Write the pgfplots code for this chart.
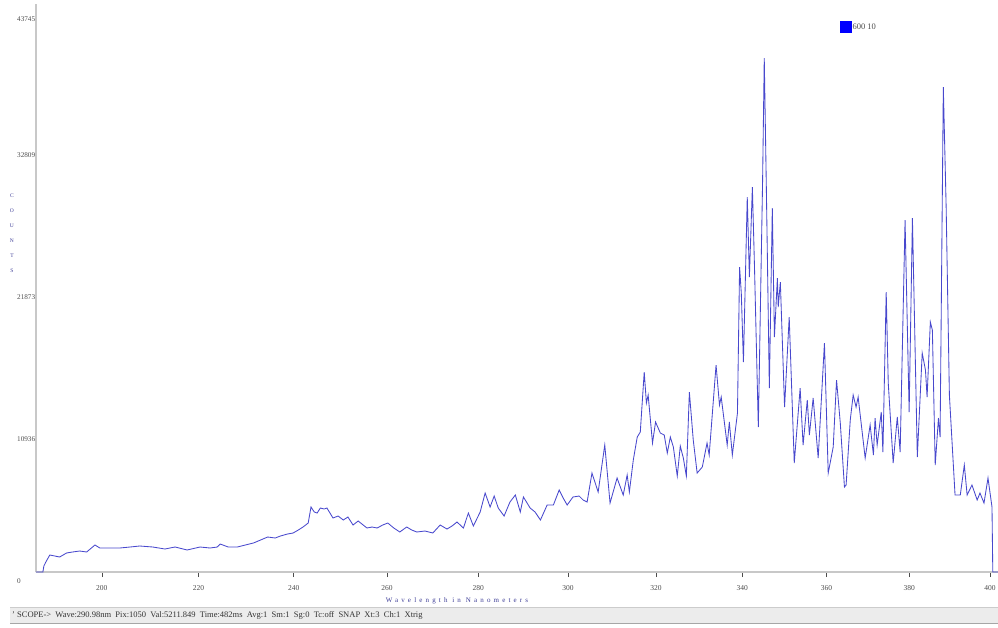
\documentclass[border=0pt]{standalone}
\usepackage{fontspec}
\setmainfont{Liberation Serif}
\usepackage{pgfplots}
\pgfplotsset{compat=1.18}
\definecolor{trace}{RGB}{72,72,205}
\definecolor{axgray}{RGB}{200,200,200}
\definecolor{lblue}{RGB}{60,60,150}
\definecolor{barfill}{RGB}{236,236,236}

\begin{document}
\begin{tikzpicture}
\useasboundingbox (-36pt,-55pt) rectangle (962pt,572pt);
\begin{axis}[
	scale only axis,
	width=962pt, height=568pt,
	% pixel position of the wavelength scale is not linear
	x coord trafo/.code={\pgfmathparse{4.44*(#1-300)-0.002215*(#1-300)*(#1-300)}},
	xmin=186.6, xmax=402,
	ymin=0, ymax=43745,
	clip=false,
	axis x line=bottom, axis y line=left,
	axis line style={axgray, line width=1.6pt, -},
	tick align=outside,
	major tick length=5pt,
	xtick={200,220,240,260,280,300,320,340,360,380,400},
	xticklabels={200,220,240,260,280,300,320,340,360,380,400},
	xtick style={black!70, line width=0.6pt},
	ytick={0,10936,21873,32809},
	yticklabels={0,10936,21873,32809},
	ytick style={draw=none},
	/pgf/number format/assume math mode=true,
	xticklabel style={font=\fontsize{7.5}{8}\selectfont, text=black!70, yshift=-5pt},
	yticklabel style={font=\fontsize{7.2}{8}\selectfont, text=black!70, anchor=north west, inner sep=0pt, xshift=-14pt, yshift=-6.5pt},
	xlabel={\addfontfeatures{LetterSpace=45}Wavelength in Nanometers},
	xlabel style={font=\fontsize{7}{8}\selectfont, text=lblue, at={(axis description cs:0.4376,0)}, anchor=center, yshift=-29pt},
	ylabel={C\\O\\U\\N\\T\\S},
	ylabel style={rotate=-90, font=\fontsize{5.5}{15}\selectfont, text=lblue, align=center, at={(axis description cs:-0.025,0.596)}, anchor=center},
	legend style={at={(0.8358,0.9595)}, anchor=west, draw=none, fill=none, inner sep=0pt,
		font=\fontsize{8.5}{9}\selectfont, text=black!70,
		nodes={inner sep=0.5pt}},
]
\addplot [color=trace, line width=0.85pt,
	legend image code/.code={\fill[blue] (0pt,-5.5pt) rectangle (11pt,5.5pt);}]
coordinates {
(186.6,0) (188.0,0) (188.2,462) (188.6,770) (189.4,1309) (190.4,1232) (191.4,1155)
(192.8,1463) (194.0,1540) (195.5,1617) (196.9,1540) (198.6,2079) (199.6,1848)
(201.7,1848) (203.7,1848) (205.8,1925) (207.8,2002) (210.5,1925) (213.0,1771)
(215.1,1925) (217.6,1694) (220.3,1925) (222.4,1848) (223.9,1925) (224.5,2156)
(226.2,1925) (228.1,1925) (229.8,2079) (231.5,2233) (233.0,2464) (234.5,2695)
(236.1,2618) (237.2,2772) (238.7,2926) (239.9,3003) (241.0,3234) (242.0,3465)
(243.1,3773) (243.7,5005) (244.4,4620) (245.0,4543) (245.7,4928) (246.5,4851)
(247.1,4928) (248.4,4158) (249.5,4312) (250.6,4004) (251.6,4235) (252.7,3619)
(253.8,3927) (255.7,3388) (256.8,3465) (257.9,3388) (259.1,3619) (260.2,3773)
(261.5,3388) (262.8,3080) (264.3,3465) (265.4,3234) (266.5,3080) (268.3,3157)
(270.0,3003) (271.6,3619) (273.1,3311) (274.2,3542) (275.3,3850) (276.7,3388)
(277.8,4543) (278.9,3542) (280.4,4620) (281.5,6083) (282.6,5005) (283.5,5852)
(284.4,4928) (285.7,4312) (287.0,5390) (288.2,5929) (289.3,4620) (290.0,5775)
(291.5,4928) (292.6,4620) (293.8,4004) (295.3,5159) (296.7,5159) (298.0,6314)
(298.9,5698) (299.8,5159) (301.1,5775) (302.5,5852) (303.4,5544) (304.3,5390)
(305.4,7623) (306.8,6160) (308.3,9779) (309.5,5313) (311.1,7238) (312.5,5929)
(313.4,7469) (313.9,6160) (314.8,8624) (315.7,10395) (316.4,10780) (317.3,15400)
(317.8,13013) (318.2,13629) (319.2,9933) (319.9,11550) (321.0,10703) (321.9,10549)
(322.6,9163) (323.3,10395) (324.0,9625) (324.9,7392) (325.6,9702) (326.3,8778)
(327.0,7392) (327.7,13860) (328.6,10164) (329.5,7623) (330.7,8085) (331.8,9933)
(332.3,9009) (333.9,15939) (334.7,12859) (335.1,13475) (336.5,9779) (337.0,11550)
(337.7,9009) (338.9,12243) (339.4,23485) (339.8,21483) (340.3,16170) (341.2,28875)
(341.7,22715) (342.4,29645) (342.9,23485) (343.8,11165) (344.8,29953) (345.2,39578)
(345.7,29414) (346.4,14168) (347.1,28028) (347.6,18095) (348.3,22638) (348.5,20405)
(349.0,22330) (350.0,12705) (351.1,19635) (352.3,8393) (353.7,14168) (354.4,9779)
(355.4,13244) (355.9,10549) (356.8,13398) (358.0,8778) (359.5,17633) (360.4,7623)
(361.6,9625) (362.4,14784) (363.3,11473) (364.3,6545) (364.7,6699) (365.7,11704)
(366.4,13629) (367.1,12705) (367.6,13475) (369.3,8778) (370.5,11319) (371.3,9009)
(371.7,11858) (372.2,9779) (373.2,12320) (373.6,9240) (374.4,21560) (374.9,14553)
(376.1,8393) (377.1,11935) (377.8,9240) (379.0,27104) (380.0,12320) (380.8,27258)
(382.0,8855) (383.2,16863) (384.0,15554) (384.4,13475) (385.2,19250) (385.7,18634)
(386.4,8239) (387.2,11858) (387.6,10395) (388.4,37345) (389.1,28105) (389.9,13629)
(391.3,5929) (392.6,5929) (393.6,8239) (394.3,5929) (395.5,6699) (396.8,5544)
(397.5,6083) (398.5,5313) (399.5,7238) (400.5,5005) (400.7,0) (402.0,0)
};
\addlegendentry{600 10}
% top value of the count scale, set lower than the other labels as in the reference
\node[anchor=north west, inner sep=0pt, font=\fontsize{7.2}{8}\selectfont, text=black!70]
	at ([xshift=-19pt,yshift=-13pt]rel axis cs:0,1) {43745};
\end{axis}
% status bar of the acquisition program
\fill[barfill] (-26pt,-51pt) rectangle (962pt,-35pt);
\draw[black!20, line width=0.8pt] (-26pt,-35pt) -- (962pt,-35pt);
\draw[black!35, line width=0.8pt] (-26pt,-51pt) -- (962pt,-51pt);
\node[anchor=west, inner sep=0pt, font=\fontsize{8.5}{9}\selectfont, text=black!80] at (-24pt,-43pt)
	{' SCOPE->~~Wave:290.98nm~~Pix:1050~~Val:5211.849~~Time:482ms~~Avg:1~~Sm:1~~Sg:0~~Tc:off~~SNAP~~Xt:3~~Ch:1~~Xtrig};
\end{tikzpicture}
\end{document}
